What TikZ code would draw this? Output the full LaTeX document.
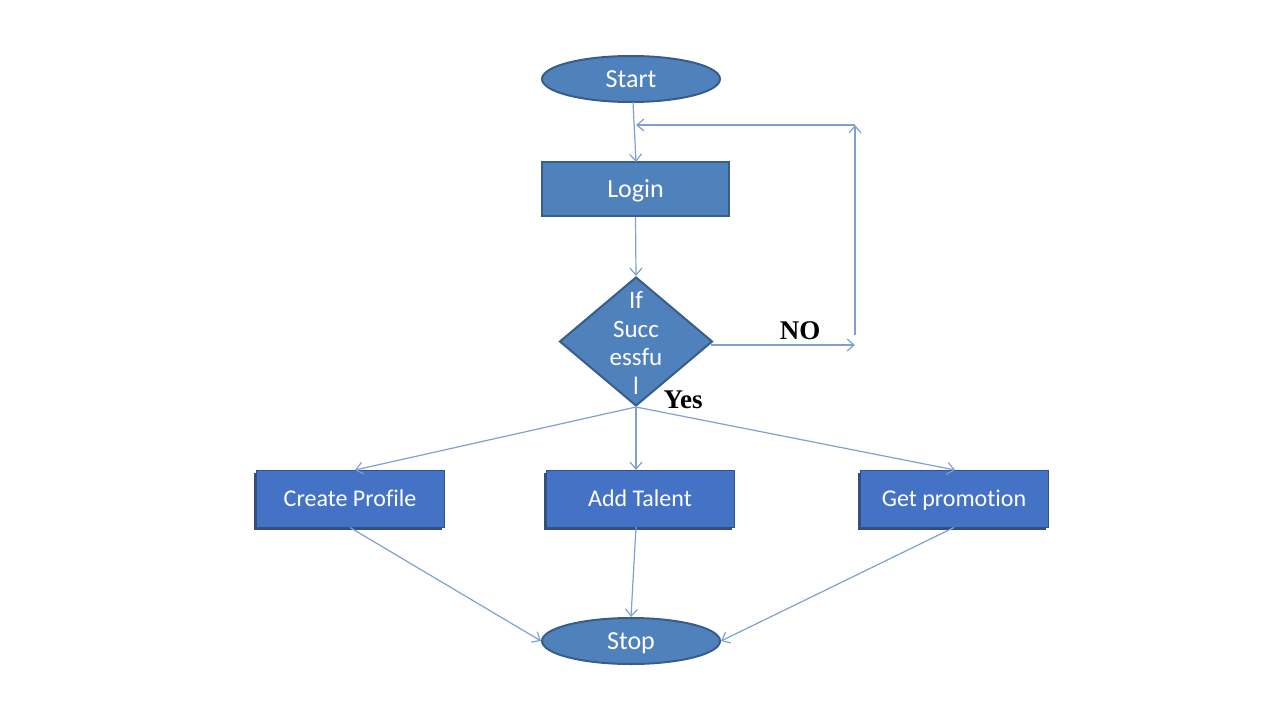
\documentclass[tikz,border=0pt]{standalone}
\usepackage{fontspec}
\setmainfont{Carlito}[Ligatures=NoCommon]
\newfontfamily\lblfont{Liberation Serif}
\usetikzlibrary{shapes.geometric,arrows.meta,shadows}
\definecolor{topfill}{HTML}{4F81BD}
\definecolor{topborder}{HTML}{385D8A}
\definecolor{botfill}{HTML}{4472C4}
\definecolor{botborder}{HTML}{2F528F}
\definecolor{shadowc}{HTML}{1F3A68}
\definecolor{conn}{HTML}{7EA1D0}
\tikzset{
  term/.style={ellipse, fill=topfill, draw=topborder, line width=2pt, minimum width=178pt, minimum height=46pt, inner sep=0pt, text=white, font=\fontsize{26}{30}\selectfont, text height=19pt, text depth=3pt},
  proc/.style={rectangle, fill=topfill, draw=topborder, line width=2pt, minimum width=187pt, minimum height=54pt, inner sep=0pt, text=white, font=\fontsize{26}{30}\selectfont, text height=19pt, text depth=3pt},
  task/.style={rectangle, fill=botfill, draw=botborder, line width=1pt, minimum width=188pt, minimum height=57pt, inner sep=0pt, text=white, font=\fontsize{24}{28}\selectfont, text height=18pt, text depth=3pt,
    drop shadow={shadow xshift=-2.5pt, shadow yshift=-2.5pt, fill=shadowc, opacity=0.9}},
  dec/.style={diamond, fill=topfill, draw=topborder, line width=2pt, minimum width=153pt, minimum height=129pt, inner sep=0pt},
  dectext/.style={text=white, align=center, font=\fontsize{25}{28.5}\selectfont, inner sep=0pt},
  conn/.style={draw=conn, line width=1.2pt, -{Straight Barb[length=7pt,width=12pt]}},
  lbl/.style={font=\lblfont\bfseries\fontsize{27}{30}\selectfont, text=black, inner sep=0pt}
}
\begin{document}
\begin{tikzpicture}[x=1pt,y=-1pt]
\useasboundingbox (0,0) rectangle (1280,720);
\node[term] (start) at (631,79) {Start};
\node[proc] (login) at (635.5,189) {Login};
\node[dec] (dec) at (636,341.5) {};
\node[dectext] (dtext) at (636,343) {If\\Succ\\essfu\\l};
\node[task] (create) at (350,498.5) {Create Profile};
\node[task] (talent) at (640,498.5) {Add Talent};
\node[task] (promo) at (954,498.5) {Get promotion};
\node[term] (stop) at (631,641) {Stop};
\node[lbl] (no) at (800,331) {NO};
\node[lbl] (yes) at (683,400) {Yes};
\coordinate (de) at (711,345);
\coordinate (nr) at (855,345);
\coordinate (nb) at (855,335);
\coordinate (nt) at (855,125);
\coordinate (nl) at (636,125);
\coordinate (ltop) at (636,162);
\coordinate (stbot) at (633,102);
\draw[conn] (stbot) -- (ltop);
\draw[conn] (login.south) -- (dec.north);
\draw[conn] (de) -- (nr);
\draw[conn] (nb) -- (nt);
\draw[conn] (nt) -- (nl);
\coordinate (ctop) at (355,470);
\coordinate (ttop) at (636,470);
\coordinate (ptop) at (955,470);
\draw[conn] (dec.south) -- (ctop);
\draw[conn] (dec.south) -- (ttop);
\draw[conn] (dec.south) -- (ptop);
\coordinate (tbot) at (636,527);
\draw[conn] (create.south) -- (stop.west);
\draw[conn] (tbot) -- (stop.north);
\draw[conn] (promo.south) -- (stop.east);
\end{tikzpicture}
\end{document}
